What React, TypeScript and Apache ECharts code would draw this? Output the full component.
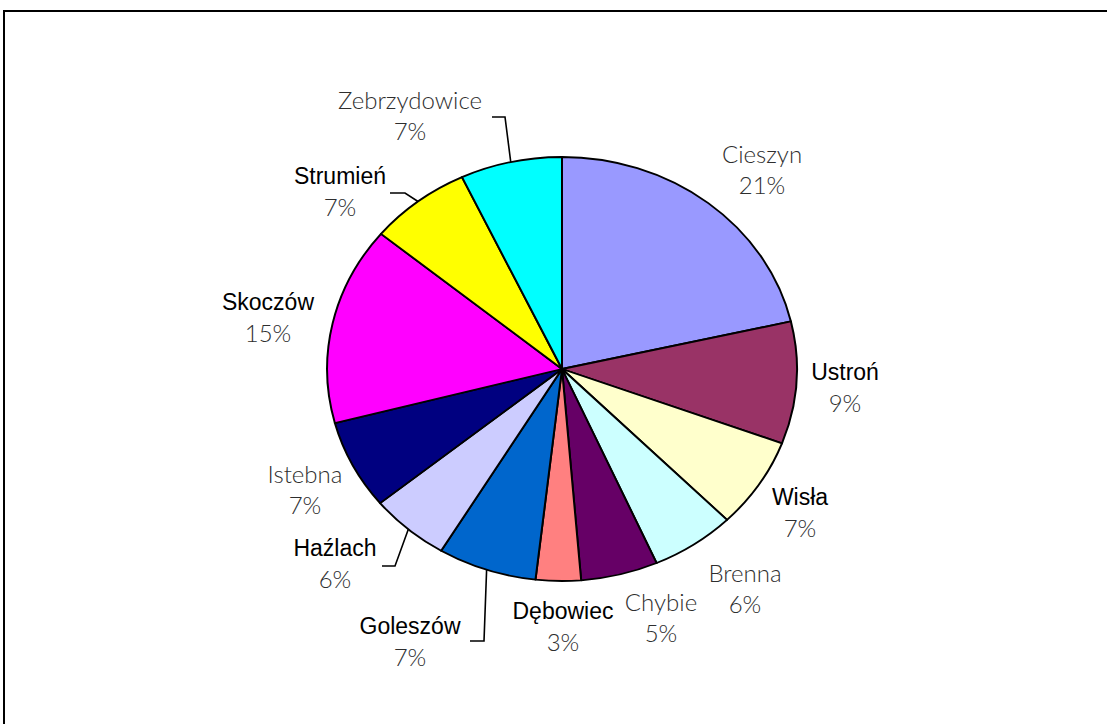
import React, { useEffect, useRef } from "react";
import * as echarts from "echarts";

const names = ["Cieszyn", "Ustroń", "Wisła", "Brenna", "Chybie", "Dębowiec", "Goleszów", "Haźlach", "Istebna", "Skoczów", "Strumień", "Zebrzydowice"];
const values = [21.4, 9.3, 6.9, 5.8, 5.3, 3.1, 6.8, 5.5, 6.8, 15.1, 7.0, 7.0];
const colors = ["#9999FF", "#993366", "#FFFFCC", "#CCFFFF", "#660066", "#FF8080", "#0066CC", "#CCCCFF", "#000080", "#FF00FF", "#FFFF00", "#00FFFF"];
const darkNames = ["Ustroń", "Wisła", "Dębowiec", "Goleszów", "Haźlach", "Skoczów", "Strumień"];

// label layout (styling only)
const labelPos: number[][] = [[762, 169], [845, 387], [800, 512], [745, 588], [661, 617], [563, 626], [410, 641], [335, 563], [305, 489], [268, 317], [340, 191], [410, 115]];
const elbows: Record<number, number[][]> = {
  6: [[484, 641], [470, 641]],
  7: [[395, 566], [382, 566]],
  10: [[405, 193], [390, 193]],
  11: [[505, 117], [492, 117]],
};

const CX = 562;
const CY = 369;
const R = 212;
const SX = 1.108;

export default function App() {
  const pieRef = useRef<HTMLDivElement>(null);
  const labelRef = useRef<HTMLDivElement>(null);

  useEffect(() => {
    const pie = echarts.init(pieRef.current!, undefined, { renderer: "svg" });
    const lab = echarts.init(labelRef.current!, undefined, { renderer: "svg" });
    const data = names.map((n, i) => ({ name: n, value: values[i] }));

    pie.setOption({
      animation: false,
      series: [
        {
          type: "pie",
          center: [CX, CY],
          radius: R,
          startAngle: 90,
          clockwise: true,
          silent: true,
          label: { show: false },
          labelLine: { show: false },
          itemStyle: {
            color: (p: any) => colors[p.dataIndex],
            borderColor: "#000",
            borderWidth: 1.8,
          },
          data,
        },
      ],
    });

    lab.setOption({
      animation: false,
      graphic: [
        {
          type: "rect",
          shape: { x: 4, y: 11, width: 1200, height: 800 },
          style: { fill: "none", stroke: "#000", lineWidth: 2 },
          silent: true,
        },
      ],
      series: [
        {
          type: "pie",
          center: [CX, CY],
          radius: R,
          startAngle: 90,
          clockwise: true,
          silent: true,
          itemStyle: { color: "rgba(0,0,0,0)", borderWidth: 0 },
          emphasis: { disabled: true },
          label: {
            show: true,
            position: "outside",
            formatter: (p: any) =>
              `{${darkNames.includes(p.name) ? "b" : "g"}|${p.name}}\n{p|${Math.round(p.percent)}%}`,
            rich: {
              g: { fontFamily: "Lato", fontSize: 24, fontWeight: 300, color: "#2e2e2e", lineHeight: 31, align: "center" },
              b: { fontFamily: "Liberation Sans", fontSize: 23, color: "#000", lineHeight: 31, align: "center" },
              p: { fontFamily: "Lato", fontSize: 24, fontWeight: 300, color: "#2e2e2e", lineHeight: 31, align: "center" },
            },
          },
          labelLine: {
            show: true,
            length: 10,
            length2: 10,
            lineStyle: { color: "#000", width: 1.6 },
          },
          labelLayout: (params: any) => {
            const i = params.dataIndex;
            const pos = labelPos[i];
            const res: any = { x: pos[0], y: pos[1], align: "center", verticalAlign: "middle" };
            const el = elbows[i];
            if (el && params.labelLinePoints) {
              const p0 = params.labelLinePoints[0];
              const start = [CX + (p0[0] - CX) * SX, p0[1]];
              res.labelLinePoints = [start, el[0], el[1]];
            } else {
              res.labelLinePoints = [[pos[0], pos[1]], [pos[0], pos[1]], [pos[0], pos[1]]];
            }
            return res;
          },
          data: data.map((d, i) => ({
            ...d,
            labelLine: { show: !!elbows[i] },
          })),
        },
      ],
    });

    return () => {
      pie.dispose();
      lab.dispose();
    };
  }, []);

  return (
    <div style={{ position: "absolute", left: 0, top: 0, width: 1107, height: 724, overflow: "hidden", background: "#fff" }}>
      <div
        ref={pieRef}
        style={{
          position: "absolute",
          left: 0,
          top: 0,
          width: 1107,
          height: 724,
          transform: `scaleX(${SX})`,
          transformOrigin: `${CX}px 0px`,
        }}
      />
      <div ref={labelRef} style={{ position: "absolute", left: 0, top: 0, width: 1107, height: 724 }} />
    </div>
  );
}
